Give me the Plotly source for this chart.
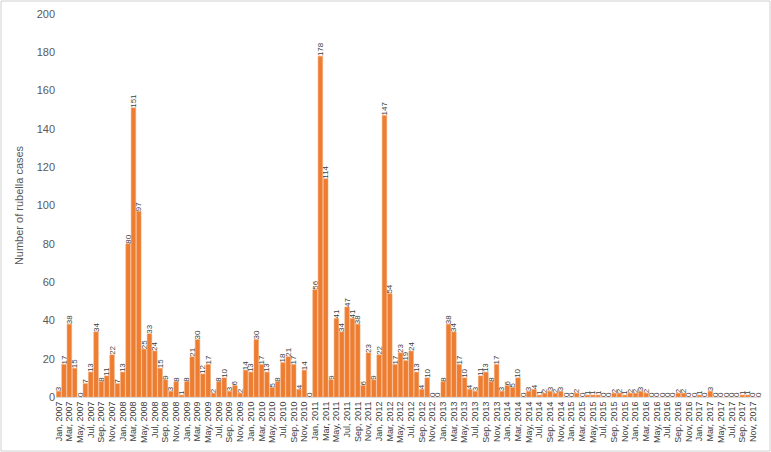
import plotly.graph_objects as go

# monthly rubella cases, Jan 2007 - Dec 2017
years = list(range(2007, 2018))
months = ["Jan", "Feb", "Mar", "Apr", "May", "Jun",
          "Jul", "Aug", "Sep", "Oct", "Nov", "Dec"]

cases_2007 = [3, 17, 38, 15, 0, 7, 13, 34, 8, 11, 22, 7]
cases_2008 = [13, 80, 151, 97, 25, 33, 24, 15, 9, 3, 8, 1]
cases_2009 = [8, 21, 30, 12, 17, 2, 8, 10, 3, 6, 2, 14]
cases_2010 = [13, 30, 17, 13, 5, 8, 18, 21, 17, 4, 14, 0]
cases_2011 = [56, 178, 114, 9, 41, 34, 47, 41, 38, 6, 23, 9]
cases_2012 = [22, 147, 54, 17, 23, 19, 24, 13, 4, 10, 0, 0]
cases_2013 = [8, 38, 34, 17, 10, 4, 3, 11, 13, 8, 17, 3]
cases_2014 = [6, 5, 10, 0, 3, 4, 1, 2, 3, 2, 3, 0]
cases_2015 = [0, 2, 0, 1, 1, 1, 0, 0, 2, 2, 1, 2]
cases_2016 = [2, 3, 2, 0, 0, 0, 0, 0, 2, 2, 0, 0]
cases_2017 = [1, 0, 3, 0, 0, 0, 0, 0, 1, 1, 0, 0]

cases = (cases_2007 + cases_2008 + cases_2009 + cases_2010 + cases_2011 + cases_2012
         + cases_2013 + cases_2014 + cases_2015 + cases_2016 + cases_2017)
labels = [f"{m}, {y}" for y in years for m in months]
tick_labels = labels[::2]

W, H = 771, 452
L, R, T, B = 56, 10, 14, 55

fig = go.Figure()

fig.add_trace(
    go.Bar(
        x=labels,
        y=cases,
        marker_color="#ED7D31",
        marker_line=dict(color="#F4A56E", width=0.5),
        text=[str(v) for v in cases],
        textposition="outside",
        textangle=-90,
        constraintext="none",
        cliponaxis=False,
        textfont=dict(size=8, color="#404040", family="Liberation Sans"),
    )
)

# light frame around the whole chart
pw = W - L - R
ph = H - T - B
fig.add_shape(
    type="rect", xref="paper", yref="paper",
    x0=-(L - 1) / pw, x1=1 + (R - 1) / pw,
    y0=-(B - 1) / ph, y1=1 + (T - 1) / ph,
    line=dict(color="#D0D0D0", width=1),
)

fig.update_layout(
    width=W,
    height=H,
    margin=dict(l=L, r=R, t=T, b=B),
    plot_bgcolor="white",
    paper_bgcolor="white",
    bargap=0.14,
    showlegend=False,
    font=dict(family="Liberation Sans", color="#595959"),
    xaxis=dict(
        type="category",
        tickmode="array",
        tickvals=tick_labels,
        ticktext=tick_labels,
        tickangle=-90,
        tickfont=dict(size=9, color="#404040"),
        showline=True,
        linecolor="#D9D9D9",
        showgrid=False,
        ticks="",
        automargin=False,
    ),
    yaxis=dict(
        range=[0, 200],
        dtick=20,
        showgrid=False,
        zeroline=False,
        tickfont=dict(size=11, color="#595959"),
        title=dict(text="Number of rubella cases", font=dict(size=11, color="#595959"), standoff=10),
        ticks="",
        automargin=False,
    ),
)

fig.write_html(
    "out.html",
    config={"displayModeBar": False},
    post_script="document.body.style.margin='0';",
)
